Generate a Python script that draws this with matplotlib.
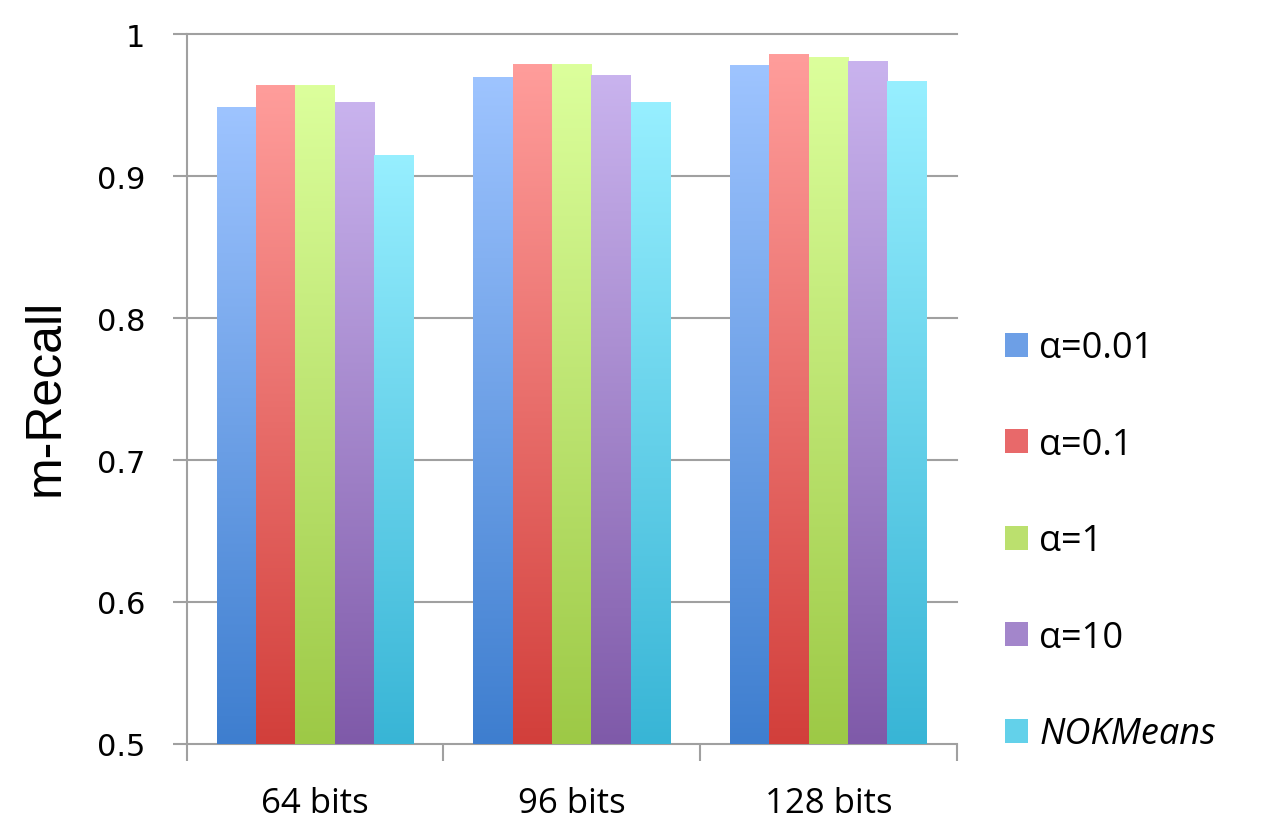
import numpy as np
import matplotlib
matplotlib.use('Agg')
import matplotlib.pyplot as plt
from matplotlib.patches import Patch
from matplotlib.colors import LinearSegmentedColormap

# data
groups = ['64 bits', '96 bits', '128 bits']
series = ['α=0.01', 'α=0.1', 'α=1', 'α=10', 'NOKMeans']
values = [
    [0.949, 0.970, 0.978],   # alpha=0.01
    [0.964, 0.979, 0.986],   # alpha=0.1
    [0.964, 0.979, 0.984],   # alpha=1
    [0.952, 0.971, 0.981],   # alpha=10
    [0.915, 0.952, 0.967],   # NOKMeans
]
yticks = [0.5, 0.6, 0.7, 0.8, 0.9, 1.0]
ytick_labels = ['0.5', '0.6', '0.7', '0.8', '0.9', '1']

# gradient colours per series (top, bottom)
top_colors = ['#9ec4ff', '#ff9d9b', '#dcff9c', '#c9b3ee', '#97efff']
bottom_colors = ['#3e7ecf', '#d23f3b', '#9dc946', '#7f5aa9', '#38b5d6']
mid_colors = ['#6d9fe6', '#e8696a', '#bbe06e', '#a386cb', '#63d1ea']

fig = plt.figure(figsize=(12.62, 8.37), dpi=100)
ax = fig.add_axes([0.148, 0.110, 0.610, 0.848])

x = np.arange(len(groups))
n = len(series)
width = 0.767 / n
for i in range(n):
    offs = (i - (n - 1) / 2) * width
    bars = ax.bar(x + offs, np.array(values[i]) - 0.5, width, bottom=0.5,
                  color='none', edgecolor='none', zorder=3)
    # vertical gradient inside each bar
    cmap = LinearSegmentedColormap.from_list('g%d' % i, [bottom_colors[i], top_colors[i]])
    grad = np.linspace(0, 1, 256).reshape(-1, 1)
    for b in bars:
        x0, y0 = b.get_x(), b.get_y()
        im = ax.imshow(grad, cmap=cmap, aspect='auto', origin='lower',
                       extent=[x0, x0 + b.get_width(), y0, y0 + b.get_height()],
                       zorder=3)
        im.set_clip_path(b)

ax.set_xlim(-0.5, len(groups) - 0.5)
ax.set_ylim(0.5, 1.0)

# grid and spines
for y in yticks:
    ax.axhline(y, color='#a0a0a0', lw=1.5, zorder=1, clip_on=False)
for s in ['top', 'right', 'bottom']:
    ax.spines[s].set_visible(False)
ax.spines['left'].set_color('#a0a0a0')
ax.spines['left'].set_linewidth(1.5)

ax.set_yticks(yticks)
ax.set_yticklabels(ytick_labels, fontsize=22, fontfamily='DejaVu Sans')
ax.tick_params(axis='y', length=10, width=1.5, color='#a0a0a0', pad=20)

# category ticks at the group boundaries, labels in the middle
ax.set_xticks(np.arange(len(groups) + 1) - 0.5)
ax.set_xticklabels([])
ax.tick_params(axis='x', length=12, width=1.5, color='#a0a0a0')
ax.set_xticks(x, minor=True)
ax.set_xticklabels(groups, minor=True, fontsize=25, fontfamily='Open Sans')
ax.tick_params(axis='x', which='minor', length=0, pad=30)

ax.set_ylabel('m-Recall', fontsize=36, fontfamily='Liberation Sans')
ax.yaxis.set_label_coords(-0.153, 0.489)

handles = [Patch(facecolor=mid_colors[i], edgecolor='none') for i in range(n)]
leg = fig.legend(handles, series, loc='center left', bbox_to_anchor=(0.7824, 0.352),
                 frameon=False, borderpad=0, handlelength=0.637, handleheight=0.637,
                 handletextpad=0.305, labelspacing=1.675,
                 prop={'family': 'Open Sans', 'size': 26})
leg.get_texts()[-1].set_fontstyle('italic')

fig.savefig('out.png', dpi=100)
